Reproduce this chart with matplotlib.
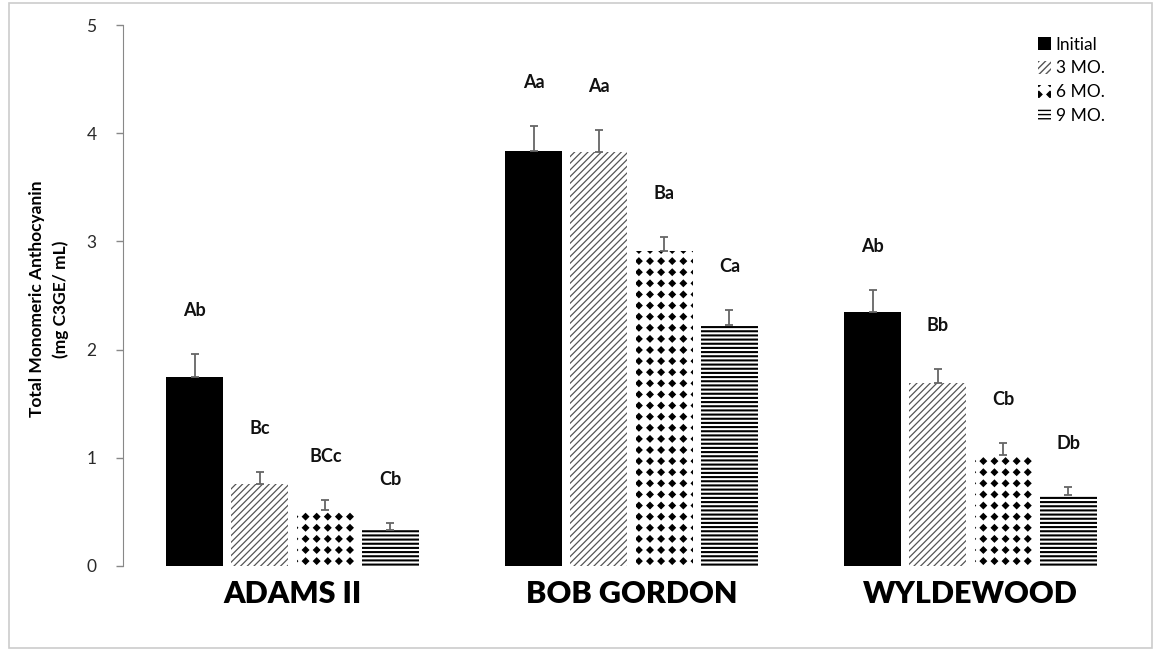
import numpy as np
import matplotlib
matplotlib.use('Agg')
import matplotlib.pyplot as plt
from matplotlib import hatch as mhatch
from matplotlib.path import Path
from matplotlib.patches import Rectangle

# %% data
cultivars = ['ADAMS II', 'BOB GORDON', 'WYLDEWOOD']
periods = ['Initial', '3 MO.', '6 MO.', '9 MO.']

initial_vals = [1.75, 3.84, 2.35]
initial_err = [0.21, 0.23, 0.20]
mo3_vals = [0.76, 3.83, 1.69]
mo3_err = [0.11, 0.20, 0.13]
mo6_vals = [0.52, 2.91, 1.03]
mo6_err = [0.09, 0.13, 0.11]
mo9_vals = [0.33, 2.23, 0.66]
mo9_err = [0.07, 0.14, 0.07]

initial_letters = ['Ab', 'Aa', 'Ab']
mo3_letters = ['Bc', 'Aa', 'Bb']
mo6_letters = ['BCc', 'Ba', 'Cb']
mo9_letters = ['Cb', 'Ca', 'Db']


# %% square grid of filled diamonds, used for the '*' hatch
class DiamondGrid(mhatch.HatchPatternBase):
    def __init__(self, hatch, density):
        self.n = 9 if '*' in hatch else 0
        self.num_vertices = self.n * self.n * 5

    def set_vertices_and_codes(self, vertices, codes):
        r = 0.03
        diamond = np.array([[0, r], [r, 0], [0, -r], [-r, 0], [0, r]])
        k = 0
        for i in range(self.n):
            for j in range(self.n):
                c = np.array([(j + 0.5) / self.n, (i + 0.5) / self.n])
                vertices[k:k + 5] = diamond + c
                codes[k:k + 5] = [Path.MOVETO, Path.LINETO, Path.LINETO,
                                  Path.LINETO, Path.CLOSEPOLY]
                k += 5


mhatch._hatch_types = [t for t in mhatch._hatch_types if t is not mhatch.Stars] + [DiamondGrid]

plt.rcParams['font.family'] = ['Lato', 'DejaVu Sans']

# %% plot
fig = plt.figure(figsize=(11.55, 6.52), dpi=100)
ax = fig.add_axes([123 / 1155, 86 / 652, 1017 / 1155, 541 / 652])

series = [
    (initial_vals, initial_err, initial_letters, dict(color='black', edgecolor='black', hatch=None), 1.0),
    (mo3_vals, mo3_err, mo3_letters, dict(color='white', edgecolor='#555555', hatch='/////'), 0.9),
    (mo6_vals, mo6_err, mo6_letters, dict(color='white', edgecolor='black', hatch='*'), 1.0),
    (mo9_vals, mo9_err, mo9_letters, dict(color='white', edgecolor='black', hatch='----'), 1.5),
]
offsets = [-0.289, -0.097, 0.097, 0.289]
width = 0.168
x = np.arange(len(cultivars))

for (vals, err, letters, style, hlw), off, name in zip(series, offsets, periods):
    with plt.rc_context({'hatch.linewidth': hlw}):
        bars = ax.bar(x + off, vals, width, linewidth=0, label=name, **style)
    for b in bars:
        if hasattr(b, 'set_hatch_linewidth'):
            b.set_hatch_linewidth(hlw)
    ax.errorbar(x + off, vals, yerr=[np.zeros(len(err)), err], fmt='none',
                ecolor='#666666', elinewidth=1.3, capsize=3, capthick=1.3)
    for xi, v, e, t in zip(x + off, vals, err, letters):
        ax.text(xi, v + e + 0.4, t, ha='center', va='center',
                fontsize=13, fontweight='bold', color='#111111')

ax.set_xlim(-0.5, 2.5)
ax.set_ylim(0, 5)
ax.set_yticks(range(6))
ax.tick_params(axis='y', direction='out', length=5, width=1, color='#888888',
               labelsize=12.5, labelcolor='#2a2a2a', pad=14)
ax.set_xticks(x)
ax.set_xticklabels(cultivars, fontsize=22, fontweight='heavy')
ax.tick_params(axis='x', length=0, pad=10)
for s in ['top', 'right', 'bottom']:
    ax.spines[s].set_visible(False)
ax.spines['left'].set_color('#888888')

fig.text(49 / 1155, 1 - 299 / 652,
         'Total Monomeric Anthocyanin\n(mg C3GE/ mL)',
         rotation=90, ha='center', va='center', multialignment='center',
         fontsize=12.5, fontweight='bold', linespacing=1.5)

ax.legend(loc='upper left', bbox_to_anchor=(1022 / 1155, 1 - 21 / 652),
          bbox_transform=fig.transFigure, frameon=False, fontsize=12.5,
          handlelength=0.75, handleheight=0.75, handletextpad=0.3,
          labelspacing=0.45)

fig.patches.append(Rectangle((9 / 1155, 4 / 652), 1143 / 1155, 645 / 652,
                             transform=fig.transFigure, fill=False,
                             edgecolor='#cccccc', linewidth=1.2))

fig.savefig('out.png', dpi=100)
